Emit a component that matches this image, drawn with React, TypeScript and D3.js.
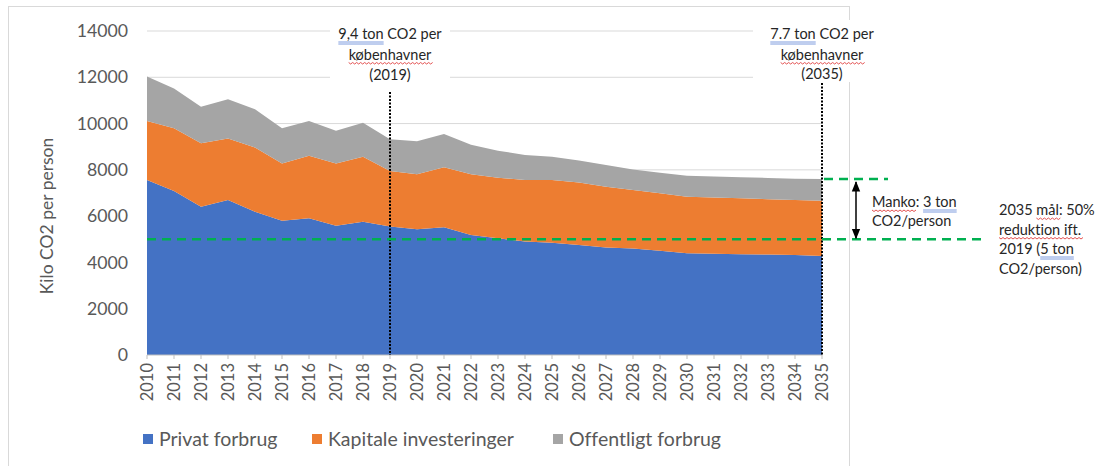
import React, { useEffect, useRef } from 'react'
import * as d3 from 'd3'

const years = ['2010', '2011', '2012', '2013', '2014', '2015', '2016', '2017', '2018', '2019', '2020', '2021', '2022',
    '2023', '2024', '2025', '2026', '2027', '2028', '2029', '2030', '2031', '2032', '2033', '2034', '2035']
const privat = [7560, 7090, 6410, 6700, 6190, 5800, 5910, 5590, 5760, 5550, 5430, 5520, 5190,
    5040, 4900, 4850, 4750, 4650, 4600, 4510, 4400, 4380, 4350, 4340, 4320, 4280]
const kapitale = [2550, 2710, 2740, 2660, 2780, 2480, 2700, 2690, 2810, 2400, 2385, 2590, 2620,
    2620, 2660, 2710, 2700, 2620, 2530, 2480, 2440, 2430, 2420, 2390, 2380, 2390]
const offentlig = [1920, 1720, 1580, 1690, 1650, 1520, 1500, 1410, 1470, 1370, 1420, 1440, 1270,
    1170, 1080, 1010, 950, 940, 890, 890, 910, 900, 910, 920, 920, 930]
const seriesNames = ['Privat forbrug', 'Kapitale investeringer', 'Offentligt forbrug']
const colors = ['#4472C4', '#ED7D31', '#A5A5A5']
const yTicks = [0, 2000, 4000, 6000, 8000, 10000, 12000, 14000]
const goal2035 = 5000
const markYears = ['2019', '2035']

const FONT = 'Lato, "Open Sans", sans-serif'

export default function App() {
    const ref = useRef<SVGSVGElement>(null)

    useEffect(() => {
        document.body.style.margin = '0'
        const svg = d3.select(ref.current)
        svg.selectAll('*').remove()
        svg.style('font-variant-ligatures', 'none')

        const x = d3.scalePoint().domain(years).range([147, 822])
        const y = d3.scaleLinear().domain([0, 14000]).range([355, 31])

        // chart frame
        svg.append('rect')
            .attr('x', 8.5).attr('y', 6.5).attr('width', 841).attr('height', 470)
            .attr('fill', '#fff').attr('stroke', '#D9D9D9')

        // gridlines
        svg.append('g').selectAll('line')
            .data(yTicks.slice(1))
            .enter().append('line')
            .attr('x1', 147).attr('x2', 822)
            .attr('y1', d => y(d)).attr('y2', d => y(d))
            .attr('stroke', '#D9D9D9').attr('stroke-width', 1)

        // white boxes behind top labels
        svg.append('rect').attr('x', 330).attr('y', 20).attr('width', 120).attr('height', 68).attr('fill', '#fff')
        svg.append('rect').attr('x', 753).attr('y', 20).attr('width', 112).attr('height', 62).attr('fill', '#fff')

        // stacked areas
        const table = years.map((yr, i) => ({ year: yr, a: privat[i], b: kapitale[i], c: offentlig[i] }))
        const stack = d3.stack<any>().keys(['a', 'b', 'c'])(table)
        const area = d3.area<any>()
            .x(d => x(d.data.year) as number)
            .y0(d => y(d[0]))
            .y1(d => y(d[1]))
        svg.append('g').selectAll('path')
            .data(stack)
            .enter().append('path')
            .attr('d', d => area(d as any))
            .attr('fill', (d, i) => colors[i])

        // x axis
        svg.append('line')
            .attr('x1', 147).attr('x2', 822).attr('y1', y(0)).attr('y2', y(0))
            .attr('stroke', '#BFBFBF')
        svg.append('g').selectAll('line')
            .data(years)
            .enter().append('line')
            .attr('x1', d => x(d) as number).attr('x2', d => x(d) as number)
            .attr('y1', y(0)).attr('y2', y(0) + 4)
            .attr('stroke', '#BFBFBF')
        svg.append('g').selectAll('text')
            .data(years)
            .enter().append('text')
            .attr('transform', d => 'translate(' + x(d) + ',363) rotate(-90)')
            .attr('text-anchor', 'end')
            .attr('dy', '0.35em')
            .attr('font-family', FONT)
            .attr('font-size', 16.5)
            .attr('fill', '#595959')
            .text(d => d)

        // y axis labels
        svg.append('g').selectAll('text')
            .data(yTicks)
            .enter().append('text')
            .attr('x', 128).attr('y', d => y(d))
            .attr('dy', '0.35em')
            .attr('text-anchor', 'end')
            .attr('font-family', FONT)
            .attr('font-size', 17.7)
            .attr('fill', '#595959')
            .text(d => d)
        svg.append('text')
            .attr('transform', 'translate(47,216) rotate(-90)')
            .attr('text-anchor', 'middle')
            .attr('dy', '0.35em')
            .attr('font-family', FONT)
            .attr('font-size', 17.5)
            .attr('fill', '#595959')
            .text('Kilo CO2 per person')

        // dotted year markers
        const total2035 = privat[25] + kapitale[25] + offentlig[25]
        svg.append('g').selectAll('line')
            .data(markYears)
            .enter().append('line')
            .attr('x1', d => x(d) as number).attr('x2', d => x(d) as number)
            .attr('y1', (d, i) => i === 0 ? 92 : 83).attr('y2', y(0))
            .attr('stroke', '#000').attr('stroke-width', 2)
            .attr('stroke-dasharray', '2,1.5')

        // green dashed target lines
        svg.append('line')
            .attr('x1', 147).attr('x2', 985).attr('y1', y(goal2035)).attr('y2', y(goal2035))
            .attr('stroke', '#00B050').attr('stroke-width', 2.5).attr('stroke-dasharray', '9,6')
        svg.append('line')
            .attr('x1', 824).attr('x2', 888).attr('y1', y(total2035)).attr('y2', y(total2035))
            .attr('stroke', '#00B050').attr('stroke-width', 2.5).attr('stroke-dasharray', '9,6')

        // double arrow
        const defs = svg.append('defs')
        defs.append('marker')
            .attr('id', 'arr').attr('viewBox', '0 0 10 10').attr('refX', 9).attr('refY', 5)
            .attr('markerWidth', 7).attr('markerHeight', 7).attr('orient', 'auto-start-reverse')
            .append('path').attr('d', 'M0,1 L10,5 L0,9 Z').attr('fill', '#000')
        svg.append('line')
            .attr('x1', 856).attr('x2', 856)
            .attr('y1', y(total2035) + 3).attr('y2', y(goal2035) - 1)
            .attr('stroke', '#000').attr('stroke-width', 1.5)
            .attr('marker-start', 'url(#arr)').attr('marker-end', 'url(#arr)')

        // annotations with word-style underlines
        const annot = (cx: number, by: number, segs: string[][], mid: boolean) => {
            const t = svg.append('text')
                .attr('y', by)
                .attr('font-family', FONT)
                .attr('font-size', 14.5)
                .attr('fill', '#262626')
            segs.forEach(s => t.append('tspan').text(s[0]))
            const node = t.node() as SVGTextElement
            const total = node.getComputedTextLength()
            const sx = mid ? cx - total / 2 : cx
            t.attr('x', sx)
            let idx = 0
            segs.forEach(s => {
                const len = s[0].length
                if (s[1]) {
                    const off = idx > 0 ? node.getSubStringLength(0, idx) : 0
                    const w = node.getSubStringLength(idx, len)
                    const x0 = sx + off
                    if (s[1] === 'blue') {
                        [3, 5].forEach(dy => {
                            svg.append('line')
                                .attr('x1', x0).attr('x2', x0 + w)
                                .attr('y1', by + dy).attr('y2', by + dy)
                                .attr('stroke', '#7F9CDE').attr('stroke-width', 1)
                        })
                    } else {
                        let p = 'M' + x0 + ',' + (by + 3)
                        for (let k = 0; x0 + k * 2 < x0 + w; k++) {
                            p += ' L' + (x0 + (k + 1) * 2) + ',' + (by + (k % 2 === 0 ? 4.5 : 3))
                        }
                        svg.append('path').attr('d', p)
                            .attr('fill', 'none').attr('stroke', '#E04040').attr('stroke-width', 0.9)
                    }
                }
                idx += len
            })
        }
        const x19 = x('2019') as number
        const x35 = x('2035') as number
        annot(x19, 39, [['9,4 ton', 'blue'], [' CO2 per', '']], true)
        annot(x19, 59.5, [['københavner', 'red']], true)
        annot(x19, 80, [['(2019)', '']], true)
        annot(x35, 39, [['7.7 ton', 'blue'], [' CO2 per', '']], true)
        annot(x35, 59.5, [['københavner', 'red']], true)
        annot(x35, 79, [['(2035)', '']], true)
        annot(872, 207, [['Manko', 'red'], [': ', ''], ['3 ton', 'blue']], false)
        annot(872, 226, [['CO2/person', '']], false)
        annot(999, 215, [['2035 ', ''], ['mål', 'red'], [': 50%', '']], false)
        annot(999, 234.5, [['reduktion ift.', 'red']], false)
        annot(999, 254, [['2019 (', ''], ['5 ton', 'blue']], false)
        annot(999, 273.5, [['CO2/person)', '']], false)

        // legend
        const legendX = [143, 312, 553]
        const lg = svg.append('g').selectAll('g')
            .data(seriesNames)
            .enter().append('g')
            .attr('transform', (d, i) => 'translate(' + legendX[i] + ',434)')
        lg.append('rect').attr('width', 10).attr('height', 10).attr('fill', (d, i) => colors[i])
        lg.append('text')
            .attr('x', 16).attr('y', 5).attr('dy', '0.35em')
            .attr('font-family', FONT)
            .attr('font-size', 19.5)
            .attr('fill', '#595959')
            .text(d => d)
    }, [])

    return (
        <svg ref={ref} width={1100} height={466} style={{ display: 'block' }}></svg>
    )
}
